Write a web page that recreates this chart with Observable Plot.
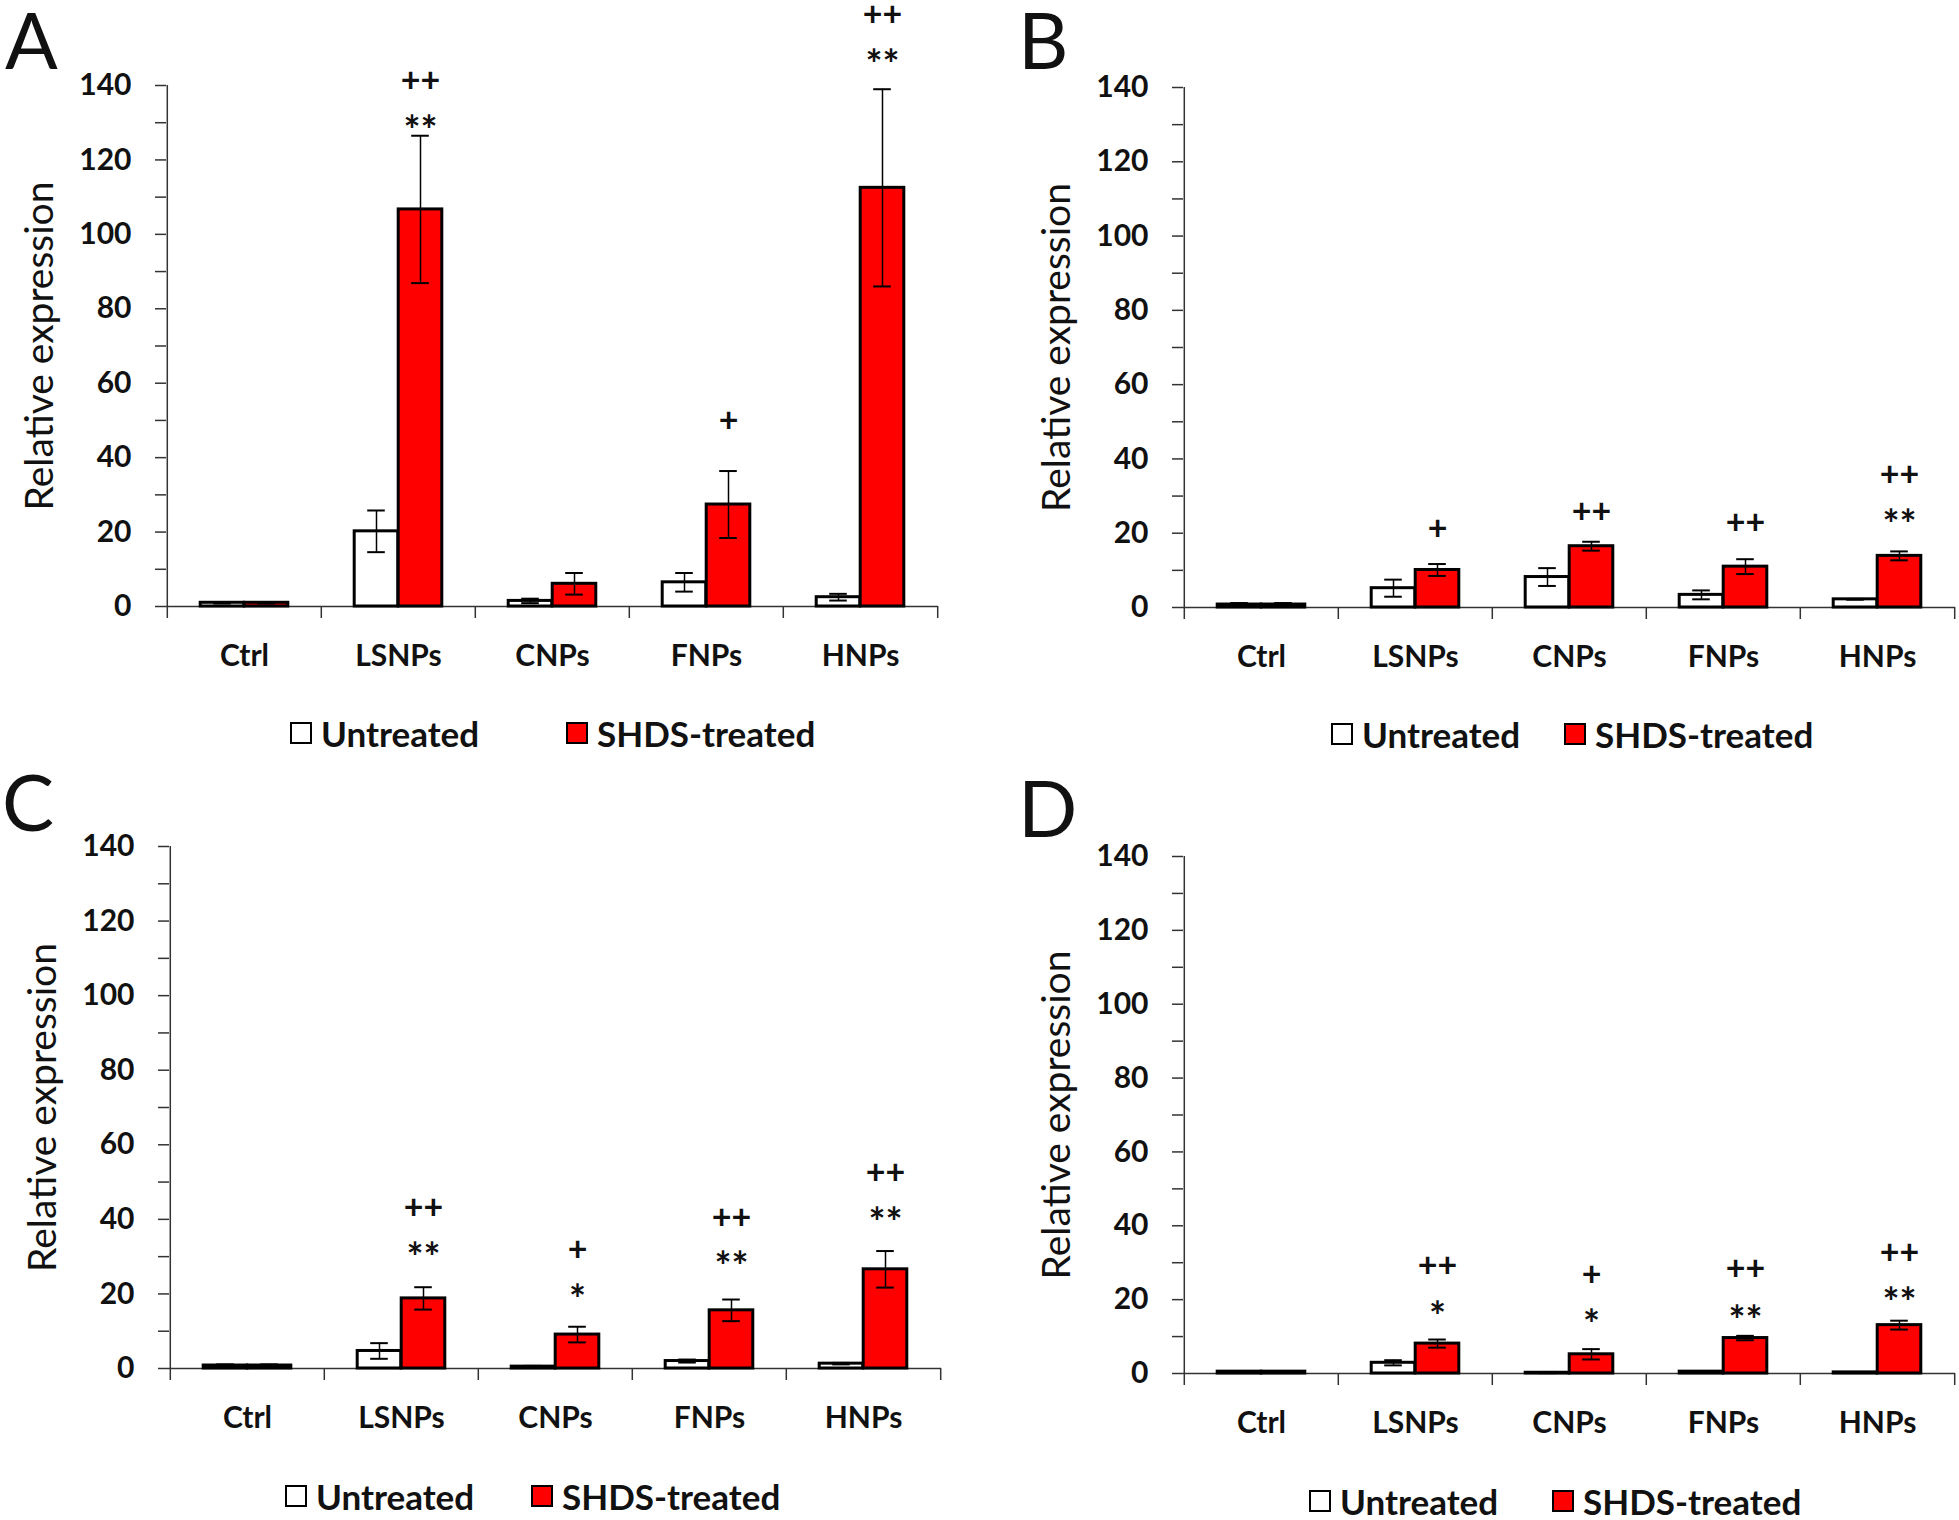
<!DOCTYPE html>
<html>
<head>
<meta charset="utf-8">
<script src="https://cdn.jsdelivr.net/npm/d3@7"></script>
<script src="https://cdn.jsdelivr.net/npm/@observablehq/plot@0.6"></script>
<style>
  html, body { margin: 0; padding: 0; background: #fff; }
  #page { position: relative; width: 1959px; height: 1520px; overflow: hidden; background: #fff; font-family: Lato, "Open Sans", sans-serif; color: #111; }
  .panel { position: absolute; }
  .letter { position: absolute; font-size: 78px; line-height: 78px; font-weight: normal; color: #111; }
  .legend-item { position: absolute; display: flex; align-items: center; height: 40px; font-size: 35px; font-weight: bold; color: #111; white-space: nowrap; }
  .swatch { box-sizing: border-box; width: 22px; height: 22px; border: 2.5px solid #000; margin-right: 9px; }
</style>
</head>
<body>
<div id="page"></div>
<script>
// ---------------- data ----------------
const categories = ["Ctrl", "LSNPs", "CNPs", "FNPs", "HNPs"];
const seriesNames = ["Untreated", "SHDS-treated"];
const yTicks = [0, 20, 40, 60, 80, 100, 120, 140];
const yMinorTicks = [10, 30, 50, 70, 90, 110, 130];
const yLabel = "Relative expression";
const panelLetters = ["A", "B", "C", "D"];

// Panel A
const untreatedA = [1.0, 20.2, 1.5, 6.5, 2.5];
const untreatedErrA = [0.2, 5.6, 0.6, 2.5, 0.9];
const treatedA = [1.0, 106.7, 6.1, 27.4, 112.5];
const treatedErrA = [0.2, 19.8, 2.9, 9.0, 26.5];
const starsA = [null, "**", null, null, "**"];
const starsLevelA = [null, 130.2, null, null, 147.9];
const plusA = [null, "++", null, "+", "++"];
const plusLevelA = [null, 141.2, null, 49.8, 159.0];

// Panel B
const untreatedB = [0.8, 5.2, 8.2, 3.4, 2.2];
const untreatedErrB = [0.4, 2.3, 2.4, 1.2, 0.1];
const treatedB = [0.8, 10.1, 16.5, 11.0, 13.9];
const treatedErrB = [0.4, 1.6, 1.2, 2.0, 1.2];
const starsB = [null, null, null, null, "**"];
const starsLevelB = [null, null, null, null, 24.6];
const plusB = [null, "+", "++", "++", "++"];
const plusLevelB = [null, 21.2, 25.7, 22.8, 35.7];

// Panel C
const untreatedC = [0.8, 4.7, 0.5, 2.0, 1.3];
const untreatedErrC = [0.3, 2.1, 0.2, 0.4, 0.2];
const treatedC = [0.8, 18.8, 9.1, 15.6, 26.6];
const treatedErrC = [0.3, 3.0, 2.1, 2.9, 4.9];
const starsC = [null, "**", "*", "**", "**"];
const starsLevelC = [null, 31.9, 20.7, 29.5, 41.3];
const plusC = [null, "++", "+", "++", "++"];
const plusLevelC = [null, 43.0, 31.7, 40.4, 52.5];

// Panel D
const untreatedD = [0.5, 2.9, 0.2, 0.5, 0.3];
const untreatedErrD = [0.1, 0.7, 0.1, 0.1, 0.1];
const treatedD = [0.5, 8.1, 5.2, 9.6, 13.1];
const treatedErrD = [0.1, 1.1, 1.4, 0.6, 1.2];
const starsD = [null, "*", "*", "**", "**"];
const starsLevelD = [null, 17.8, 15.4, 16.7, 21.4];
const plusD = [null, "++", "+", "++", "++"];
const plusLevelD = [null, 29.2, 26.7, 28.2, 32.5];

// ---------------- layout (styles) ----------------
const panelData = [
  [untreatedA, untreatedErrA, treatedA, treatedErrA, starsA, starsLevelA, plusA, plusLevelA],
  [untreatedB, untreatedErrB, treatedB, treatedErrB, starsB, starsLevelB, plusB, plusLevelB],
  [untreatedC, untreatedErrC, treatedC, treatedErrC, starsC, starsLevelC, plusC, plusLevelC],
  [untreatedD, untreatedErrD, treatedD, treatedErrD, starsD, starsLevelD, plusD, plusLevelD]
];
const layout = [
  {left: 0,    top: 0,   width: 980, y140: 85,  y0: 606, letterLeft: 5,    letterTop: 0,   legend1: 290,  legend2: 566,  legendY: 733},
  {left: 1017, top: 0,   width: 942, y140: 87,  y0: 607, letterLeft: 1018, letterTop: 0,   legend1: 1331, legend2: 1564, legendY: 734},
  {left: 3,    top: 760, width: 980, y140: 86,  y0: 608, letterLeft: 2,    letterTop: 762, legend1: 285,  legend2: 531,  legendY: 1496},
  {left: 1017, top: 760, width: 942, y140: 96,  y0: 613, letterLeft: 1018, letterTop: 768, legend1: 1309, legend2: 1552, legendY: 1501}
];
const plotW = 772, marginLeft = 166, svgH = 700;
const bw = plotW / categories.length;
const barW = 44, capW = 18;
const axisColor = "#333";
const red = "#ff0000";

const page = document.getElementById("page");

panelData.forEach((pd, k) => {
  const [u, ue, t, te, st, stY, pl, plY] = pd;
  const L = layout[k];
  const rows = categories.map((c, i) => ({
    category: c, untreated: u[i], uErr: ue[i], treated: t[i], tErr: te[i],
    stars: st[i], starsY: stY[i], plus: pl[i], plusY: plY[i]
  }));
  const chart = Plot.plot({
    width: L.width,
    height: svgH,
    marginLeft: marginLeft,
    marginRight: L.width - marginLeft - plotW,
    marginTop: L.y140,
    marginBottom: svgH - L.y0,
    style: {fontFamily: "Lato, 'Open Sans', sans-serif", color: "#111", background: "transparent", overflow: "visible"},
    x: {domain: categories, padding: 0},
    y: {domain: [0, 140]},
    marks: [
      // axes
      Plot.axisY(yTicks, {tickSize: 11, tickPadding: 24, fontSize: 30, fontWeight: "bold", label: null, stroke: axisColor, strokeWidth: 1.5}),
      Plot.axisY(yMinorTicks, {tickSize: 11, tickFormat: () => "", label: null, stroke: axisColor, strokeWidth: 1.5}),
      Plot.axisX({tickSize: 0, tickPadding: 38, fontSize: 30, fontWeight: "bold", label: null}),
      Plot.axisX(categories, {tickSize: 12, dx: -bw / 2, tickFormat: () => "", label: null, stroke: axisColor, strokeWidth: 1.5}),
      Plot.axisX([categories[categories.length - 1]], {tickSize: 12, dx: bw / 2, tickFormat: () => "", label: null, stroke: axisColor, strokeWidth: 1.5}),
      Plot.ruleX([categories[0]], {dx: -bw / 2, y1: 0, y2: 140, stroke: axisColor, strokeWidth: 1.5}),
      Plot.ruleY([0], {stroke: axisColor, strokeWidth: 1.5}),
      Plot.text([yLabel], {text: d => d, frameAnchor: "left", textAnchor: "middle", lineAnchor: "middle", rotate: -90, dx: -126, fontSize: 39, fill: "#111"}),
      // bars
      Plot.barY(rows, {x: "category", y: "untreated", fill: "white", stroke: "black", strokeWidth: 3,
        insetLeft: bw / 2 - barW, insetRight: bw / 2}),
      Plot.barY(rows, {x: "category", y: "treated", fill: red, stroke: "black", strokeWidth: 3,
        insetLeft: bw / 2, insetRight: bw / 2 - barW}),
      // error bars
      Plot.ruleX(rows, {x: "category", y1: d => d.untreated - d.uErr, y2: d => d.untreated + d.uErr, dx: -barW / 2, stroke: "black", strokeWidth: 1.5}),
      Plot.tickY(rows, {x: "category", y: d => d.untreated + d.uErr, dx: -barW / 2, insetLeft: (bw - capW) / 2, insetRight: (bw - capW) / 2, stroke: "black", strokeWidth: 2}),
      Plot.tickY(rows, {x: "category", y: d => d.untreated - d.uErr, dx: -barW / 2, insetLeft: (bw - capW) / 2, insetRight: (bw - capW) / 2, stroke: "black", strokeWidth: 2}),
      Plot.ruleX(rows, {x: "category", y1: d => d.treated - d.tErr, y2: d => d.treated + d.tErr, dx: barW / 2, stroke: "black", strokeWidth: 1.5}),
      Plot.tickY(rows, {x: "category", y: d => d.treated + d.tErr, dx: barW / 2, insetLeft: (bw - capW) / 2, insetRight: (bw - capW) / 2, stroke: "black", strokeWidth: 2}),
      Plot.tickY(rows, {x: "category", y: d => d.treated - d.tErr, dx: barW / 2, insetLeft: (bw - capW) / 2, insetRight: (bw - capW) / 2, stroke: "black", strokeWidth: 2}),
      // significance marks
      Plot.text(rows.filter(d => d.stars), {x: "category", y: "starsY", text: "stars", dx: barW / 2, dy: 10, fontSize: 40, fontWeight: "bold", fill: "#111"}),
      Plot.text(rows.filter(d => d.plus), {x: "category", y: "plusY", text: "plus", dx: barW / 2, fontSize: 34, fontWeight: "bold", fill: "#111"})
    ]
  });
  const wrap = document.createElement("div");
  wrap.className = "panel";
  wrap.style.left = L.left + "px";
  wrap.style.top = L.top + "px";
  wrap.appendChild(chart);
  page.appendChild(wrap);

  const letter = document.createElement("div");
  letter.className = "letter";
  letter.style.left = L.letterLeft + "px";
  letter.style.top = L.letterTop + "px";
  letter.textContent = panelLetters[k];
  page.appendChild(letter);

  [[L.legend1, "#fff", seriesNames[0]], [L.legend2, red, seriesNames[1]]].forEach(([lx, col, name]) => {
    const item = document.createElement("div");
    item.className = "legend-item";
    item.style.left = lx + "px";
    item.style.top = (L.legendY - 20) + "px";
    const sw = document.createElement("span");
    sw.className = "swatch";
    sw.style.background = col;
    const tx = document.createElement("span");
    tx.textContent = name;
    item.appendChild(sw);
    item.appendChild(tx);
    page.appendChild(item);
  });
});
</script>
</body>
</html>
